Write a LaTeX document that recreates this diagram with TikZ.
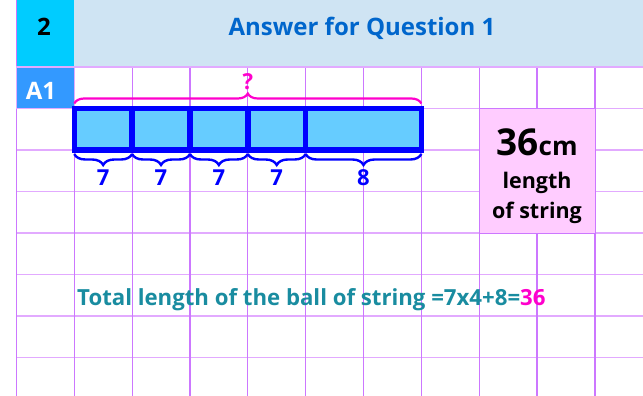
\documentclass[tikz,border=0pt]{standalone}
\usepackage{fontspec}
\setmainfont{Open Sans}
\usetikzlibrary{decorations.pathreplacing}
\definecolor{gridv}{RGB}{204,119,255}
\definecolor{gridh}{RGB}{226,170,255}
\definecolor{headcyan}{RGB}{0,204,255}
\definecolor{headblue}{RGB}{207,228,243}
\definecolor{titleblue}{RGB}{0,102,204}
\definecolor{tagblue}{RGB}{51,153,255}
\definecolor{barfill}{RGB}{102,204,255}
\definecolor{barline}{RGB}{0,0,255}
\definecolor{askpink}{RGB}{255,0,204}
\definecolor{boxpink}{RGB}{255,204,255}
\definecolor{sumteal}{RGB}{25,140,160}
\begin{document}
\begin{tikzpicture}[x=1pt, y=-1pt,
    seg/.style={draw=barline, line width=5.5pt, fill=barfill, minimum height=41.5pt,
      inner sep=0pt, outer sep=0pt, anchor=north west},
    part/.style={decorate, decoration={brace, mirror, amplitude=11pt}, barline, line width=2.4pt},
    partlbl/.style={text=barline, inner sep=0pt, font=\fontsize{22}{26}\selectfont\bfseries},
    big/.style={font=\fontsize{24}{28}\selectfont\bfseries}]
  \useasboundingbox (0,0) rectangle (643,396);
  % squared paper
  \foreach \j in {1,...,7}
    \draw[gridh, line width=1.8pt] (16,67+41.5*\j) -- (643,67+41.5*\j);
  \foreach \i in {1,...,10}
    \draw[gridv, line width=1.2pt] (16.4+57.85*\i,67) -- (16.4+57.85*\i,396);
  % header row
  \fill[headcyan] (16.4,0) rectangle (74.25,67);
  \fill[headblue] (74.25,0) rectangle (643,67);
  \draw[gridh, line width=1.8pt] (16,67) -- (643,67);
  \draw[gridv, line width=1.2pt] (16.4,0) -- (16.4,396);
  \node[big, anchor=base] (qnum) at (44,36) {2};
  \node[big, text=titleblue, anchor=base] (title) at (362,36) {Answer for Question 1};
  \filldraw[fill=tagblue, draw=gridh, line width=1.2pt] (16.4,67) rectangle (74.25,108.5);
  \node[big, text=white, anchor=base] (tag) at (41,99.5) {A1};
  % the string, cut into pieces
  \foreach \k in {1,...,4}
    \node[seg, minimum width=57.85pt] (s\k) at (16.4+57.85*\k,108.5) {};
  \node[seg, minimum width=115.7pt] (s5) at (305.65,108.5) {};
  \draw[askpink, line width=2.2pt, decorate, decoration={brace, amplitude=10pt}]
    ([yshift=5pt]s1.north west) -- ([yshift=5pt]s5.north east)
    node[midway, above=13pt, inner sep=0pt, font=\fontsize{22}{26}\selectfont\bfseries] (ask) {?};
  \foreach \k/\v in {1/7,2/7,3/7,4/7,5/8}
    \draw[part] ([yshift=-4pt]s\k.south west) -- ([yshift=-4pt]s\k.south east)
      node[partlbl, midway, below=14.5pt] (n\k) {\v};
  % answer box
  \filldraw[fill=boxpink, draw=gridv, line width=1.2pt] (479.4,108.5) rectangle (595.1,233.5);
  \node[anchor=base, inner sep=0pt] (ans) at (537,155.5)
    {\fontsize{37}{40}\selectfont\bfseries 36\fontsize{26}{30}\selectfont cm};
  \node[anchor=base, font=\fontsize{21.5}{25}\selectfont\bfseries] (len) at (537,188.5) {length};
  \node[anchor=base, font=\fontsize{21.5}{25}\selectfont\bfseries] (str) at (537,218.5) {of string};
  % the sum
  \node[anchor=base west, inner sep=0pt, text=sumteal, font=\fontsize{22.2}{26}\selectfont\bfseries]
    (sum) at (77,305) {Total length of the ball of string =7x4+8=\textcolor{askpink}{36}};
\end{tikzpicture}
\end{document}
